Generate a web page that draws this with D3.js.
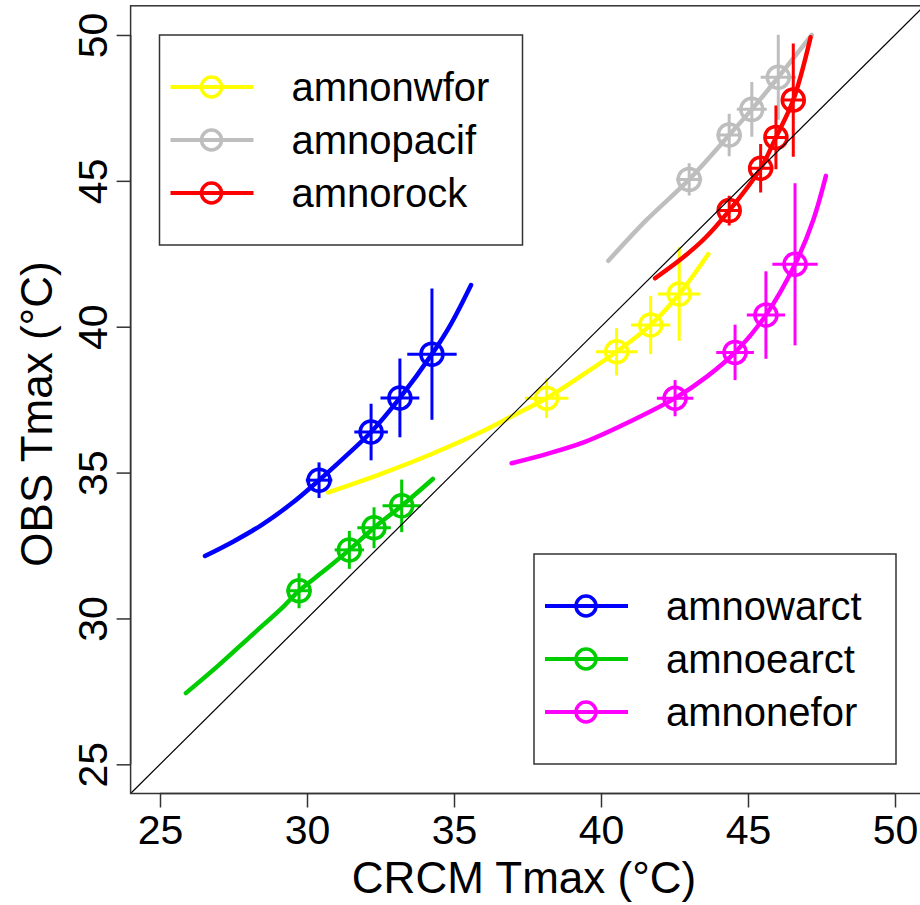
<!DOCTYPE html>
<html>
<head>
<meta charset="utf-8">
<script src="https://cdn.jsdelivr.net/npm/d3@7"></script>
<style>
  html, body { margin: 0; padding: 0; background: #fff; }
  svg { display: block; }
  text { font-family: "Liberation Sans", Arial, Helvetica, sans-serif; fill: #000; }
</style>
</head>
<body>
<svg id="chart" width="920" height="905"></svg>
<script>
// ---------- data ----------
const seriesNames = ["amnonwfor", "amnopacif", "amnorock", "amnowarct", "amnoearct", "amnonefor"];
const seriesColors = ["#FFFF00", "#BEBEBE", "#FF0000", "#0000FF", "#00CD00", "#FF00FF"];

// fitted curves [CRCM, OBS]
const curveNwfor = [[30.72,34.32],[32.5,34.95],[34.2,35.62],[35.9,36.38],[37.0,36.95],[38.15,37.55],[39.29,38.29],[40.53,39.14],[41.69,40.06],[42.66,41.12],[43.65,42.49]];
const curvePacif = [[40.25,42.26],[41.55,43.66],[43.0,45.05],[44.36,46.57],[45.13,47.45],[46.03,48.55],[47.17,50.0]];
const curveRock  = [[41.84,41.66],[42.7,42.3],[43.55,43.05],[44.36,43.98],[45.43,45.43],[45.95,46.49],[46.54,47.77],[47.13,49.92]];
const curveWarct = [[26.53,32.14],[27.5,32.64],[28.45,33.2],[29.45,33.92],[30.41,34.74],[31.3,35.55],[32.18,36.39],[33.16,37.56],[34.25,39.06],[34.9,40.1],[35.58,41.43]];
const curveEarct = [[25.88,27.44],[27.0,28.4],[28.06,29.37],[29.19,30.4],[29.73,30.95],[30.6,31.65],[31.44,32.35],[32.28,33.11],[33.22,33.86],[34.28,34.78]];
const curveNefor = [[36.96,35.32],[38.2,35.65],[39.5,36.07],[40.99,36.75],[42.52,37.55],[43.6,38.29],[44.56,39.12],[45.61,40.4],[46.6,42.14],[47.22,43.66],[47.65,45.17]];

// points: [CRCM, OBS, xErr, yErr]
const ptsNwfor = [[38.15,37.55,0.74,0.68],[40.53,39.14,0.70,0.81],[41.69,40.06,0.67,1.0],[42.66,41.12,0.72,1.6]];
const ptsPacif = [[43.0,45.05,0.44,0.55],[44.36,46.57,0.43,0.73],[45.13,47.45,0.51,0.94],[46.03,48.55,0.6,1.46]];
const ptsRock  = [[44.36,43.98,0.41,0.51],[45.43,45.43,0.43,0.83],[45.95,46.49,0.40,1.09],[46.54,47.77,0.40,1.94]];
const ptsWarct = [[30.41,34.74,0.45,0.61],[32.18,36.39,0.57,0.97],[33.16,37.56,0.66,1.35],[34.25,39.06,0.84,2.25]];
const ptsEarct = [[29.73,30.95,0.43,0.6],[31.44,32.35,0.5,0.65],[32.28,33.11,0.57,0.7],[33.22,33.86,0.65,0.9]];
const ptsNefor = [[42.52,37.55,0.62,0.62],[44.56,39.12,0.64,0.95],[45.61,40.4,0.65,1.5],[46.6,42.14,0.77,2.78]];

const curves = [curveNwfor, curvePacif, curveRock, curveWarct, curveEarct, curveNefor];
const points = [ptsNwfor, ptsPacif, ptsRock, ptsWarct, ptsEarct, ptsNefor];

const tickValues = [25, 30, 35, 40, 45, 50];
const xTitle = "CRCM Tmax (°C)";
const yTitle = "OBS Tmax (°C)";
const legendTop = [0, 1, 2];
const legendBottom = [3, 4, 5];

// ---------- drawing ----------
const svg = d3.select("#chart");
const x = d3.scaleLinear().domain([24, 51]).range([130.6, 924.4]);
const y = d3.scaleLinear().domain([24, 51]).range([793.5, 5.8]);

svg.append("defs").append("clipPath").attr("id", "clip")
  .append("rect").attr("x", x(24)).attr("y", y(51))
  .attr("width", x(51) - x(24)).attr("height", y(24) - y(51));

const plot = svg.append("g").attr("clip-path", "url(#clip)");
const line = d3.line().x(d => x(d[0])).y(d => y(d[1])).curve(d3.curveCatmullRom.alpha(0.5));

seriesNames.forEach((name, i) => {
  const col = seriesColors[i];
  const g = plot.append("g");
  g.append("path").datum(curves[i]).attr("d", line)
    .attr("fill", "none").attr("stroke", col).attr("stroke-width", 4.5)
    .attr("stroke-linecap", "round").attr("stroke-linejoin", "round");
  const p = g.selectAll("g.pt").data(points[i]).enter().append("g");
  p.append("line").attr("x1", d => x(d[0])).attr("x2", d => x(d[0]))
    .attr("y1", d => y(d[1] - d[3])).attr("y2", d => y(d[1] + d[3]))
    .attr("stroke", col).attr("stroke-width", 3);
  p.append("line").attr("x1", d => x(d[0] - d[2])).attr("x2", d => x(d[0] + d[2]))
    .attr("y1", d => y(d[1])).attr("y2", d => y(d[1]))
    .attr("stroke", col).attr("stroke-width", 3);
  p.append("circle").attr("cx", d => x(d[0])).attr("cy", d => y(d[1])).attr("r", 11)
    .attr("fill", "none").attr("stroke", col).attr("stroke-width", 3.5);
});

// 1:1 line
plot.append("line").attr("x1", x(24)).attr("y1", y(24)).attr("x2", x(51)).attr("y2", y(51))
  .attr("stroke", "#000").attr("stroke-width", 1.2);

// box
svg.append("rect").attr("x", x(24)).attr("y", y(51))
  .attr("width", x(51) - x(24)).attr("height", y(24) - y(51))
  .attr("fill", "none").attr("stroke", "#333").attr("stroke-width", 1.5);

// axes
const xAxis = d3.axisBottom(x).tickValues(tickValues).tickSize(14).tickPadding(4).tickFormat(d3.format("d"));
const gx = svg.append("g").attr("transform", `translate(0,${y(24)})`).call(xAxis);
gx.select(".domain").attr("d", `M${x(25)},0H${x(50)}`).attr("stroke", "#333").attr("stroke-width", 1.5);
gx.selectAll(".tick line").attr("stroke", "#333").attr("stroke-width", 1.5);
gx.selectAll(".tick text").attr("font-size", 41).attr("font-family", "Liberation Sans, Arial, sans-serif")
  .attr("fill", "#000").attr("dy", null).attr("y", 50);

const yAxis = d3.axisLeft(y).tickValues(tickValues).tickSize(14).tickFormat(d3.format("d"));
const gy = svg.append("g").attr("transform", `translate(${x(24)},0)`).call(yAxis);
gy.select(".domain").attr("d", `M0,${y(25)}V${y(50)}`).attr("stroke", "#333").attr("stroke-width", 1.5);
gy.selectAll(".tick line").attr("stroke", "#333").attr("stroke-width", 1.5);
gy.selectAll(".tick text").attr("font-size", 41).attr("font-family", "Liberation Sans, Arial, sans-serif")
  .attr("fill", "#000").attr("x", null).attr("dy", null)
  .attr("text-anchor", "middle")
  .attr("transform", "translate(-24,0) rotate(-90)").attr("y", 0);

// axis titles
svg.append("text").attr("x", 524).attr("y", 893).attr("text-anchor", "middle")
  .attr("font-size", 44).text(xTitle);
svg.append("text").attr("transform", `translate(52,${414}) rotate(-90)`).attr("text-anchor", "middle")
  .attr("font-size", 44).text(yTitle);

// legends
function legend(idx, bx, by, bw, bh, rowY0) {
  const g = svg.append("g");
  g.append("rect").attr("x", bx).attr("y", by).attr("width", bw).attr("height", bh)
    .attr("fill", "#fff").attr("stroke", "#333").attr("stroke-width", 1.5);
  idx.forEach((si, k) => {
    const ry = rowY0 + k * 53;
    g.append("line").attr("x1", bx + 11).attr("x2", bx + 94).attr("y1", ry).attr("y2", ry)
      .attr("stroke", seriesColors[si]).attr("stroke-width", 4);
    g.append("circle").attr("cx", bx + 52).attr("cy", ry).attr("r", 10)
      .attr("fill", "none").attr("stroke", seriesColors[si]).attr("stroke-width", 3.5);
    g.append("text").attr("x", bx + 132).attr("y", ry + 14).attr("font-size", 40).text(seriesNames[si]);
  });
}
legend(legendTop, 159.5, 35, 363, 210, 87);
legend(legendBottom, 534, 554, 362, 210, 606);
</script>
</body>
</html>
